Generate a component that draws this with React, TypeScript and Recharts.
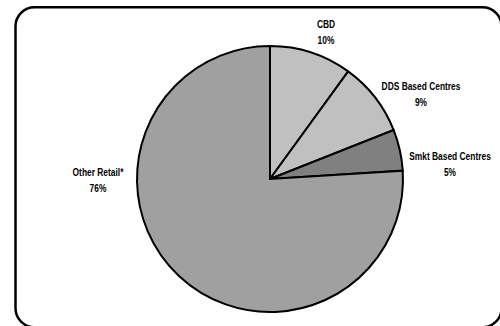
import { PieChart, Pie, Cell } from "recharts";

const categories = ["CBD", "DDS Based Centres", "Smkt Based Centres", "Other Retail*"];
const shares = [10, 9, 5, 76];
const colors = ["#c0c0c0", "#c0c0c0", "#808080", "#a0a0a0"];

// label anchor offsets from the pie centre (dx, dy)
const labelOffsets: [number, number][] = [
  [56, -147],
  [151, -85],
  [180, -15],
  [-172, 1],
];

const data = categories.map((name, i) => ({ name, value: shares[i] }));

const FONT = "'Liberation Sans', Arial, sans-serif";

function renderLabel(props: any) {
  const { cx, cy, index, name, value } = props;
  const [dx, dy] = labelOffsets[index];
  const x = cx + dx;
  const y = cy + dy;
  // squeeze horizontally to mimic a narrow typeface
  return (
    <text
      transform={`translate(${x},${y}) scale(0.8,1)`}
      x={0}
      y={0}
      textAnchor="middle"
      fontFamily={FONT}
      fontWeight="bold"
      fontSize={10.5}
      fill="#000"
    >
      <tspan x={0} dy={-4}>{name}</tspan>
      <tspan x={0} dy={16}>{value}%</tspan>
    </text>
  );
}

export default function App() {
  return (
    <div
      style={{
        position: "fixed",
        left: 0,
        top: 0,
        width: 500,
        height: 326,
        overflow: "hidden",
        background: "#fff",
      }}
    >
      <svg
        width={500}
        height={326}
        style={{ position: "absolute", left: 0, top: 0 }}
      >
        <rect x={15.5} y={7.3} width={486} height={320} rx={19} ry={19} fill="none" stroke="#000" strokeWidth={2.5} />
      </svg>
      <div style={{ position: "absolute", left: 0, top: 0 }}>
        <PieChart width={500} height={326} margin={{ top: 0, right: 0, bottom: 0, left: 0 }}>
          <Pie
            data={data}
            dataKey="value"
            nameKey="name"
            cx={270}
            cy={179}
            outerRadius={133}
            startAngle={90}
            endAngle={-270}
            stroke="#000"
            strokeWidth={2}
            label={renderLabel}
            labelLine={false}
            isAnimationActive={false}
          >
            {data.map((entry, i) => (
              <Cell key={entry.name} fill={colors[i]} />
            ))}
          </Pie>
        </PieChart>
      </div>
    </div>
  );
}
